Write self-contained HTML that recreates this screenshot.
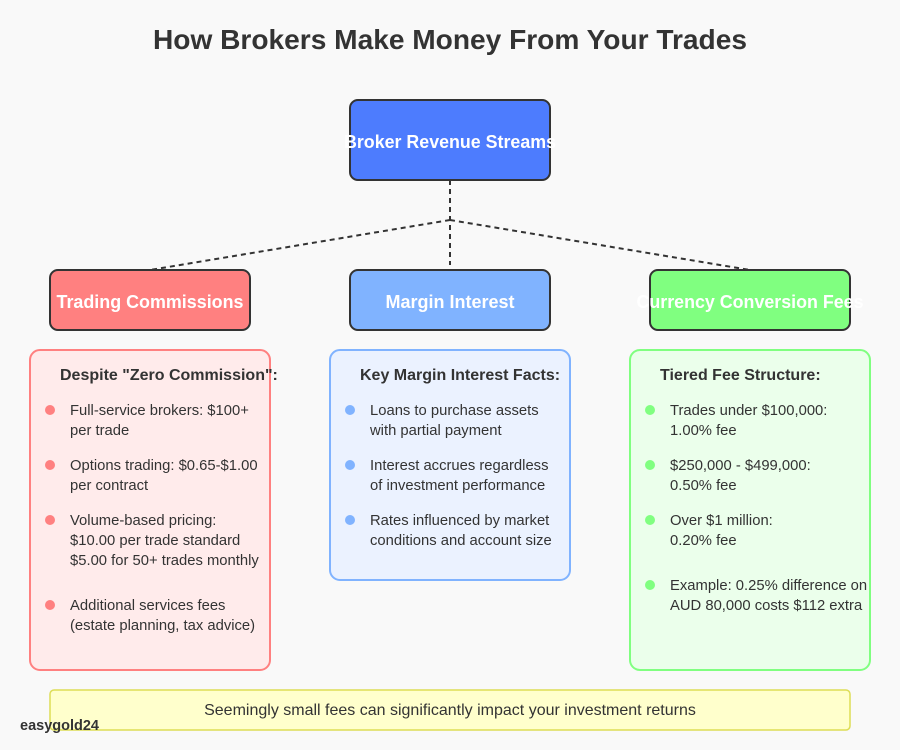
<!DOCTYPE html>
<html><head><meta charset="utf-8"><style>
html,body{margin:0;padding:0;background:#f9f9f9;}
svg{display:block;font-family:"Liberation Sans",Arial,sans-serif;}
</style></head><body>
<svg width="900" height="750" viewBox="0 0 900 750" xmlns="http://www.w3.org/2000/svg">
<rect width="900" height="750" fill="#f9f9f9"/>
<text x="450" y="49" text-anchor="middle" font-size="28" font-weight="bold" fill="#333" textLength="594" lengthAdjust="spacingAndGlyphs">How Brokers Make Money From Your Trades</text>

<rect x="350" y="100" width="200" height="80" rx="8" fill="#4d7cfe" stroke="#333" stroke-width="2"/>
<text x="450" y="148" text-anchor="middle" font-size="18" font-weight="bold" fill="#fff" textLength="212" lengthAdjust="spacingAndGlyphs">Broker Revenue Streams</text>

<g stroke="#333" stroke-width="2" stroke-dasharray="5,4" fill="none">
<line x1="450" y1="180" x2="450" y2="265"/>
<line x1="450" y1="220" x2="150" y2="270"/>
<line x1="450" y1="220" x2="750" y2="270"/>
</g>

<rect x="50" y="270" width="200" height="60" rx="8" fill="#ff8080" stroke="#333" stroke-width="2"/>
<text x="150" y="308" text-anchor="middle" font-size="18" font-weight="bold" fill="#fff" textLength="187" lengthAdjust="spacingAndGlyphs">Trading Commissions</text>
<rect x="350" y="270" width="200" height="60" rx="8" fill="#80b3ff" stroke="#333" stroke-width="2"/>
<text x="450" y="308" text-anchor="middle" font-size="18" font-weight="bold" fill="#fff" textLength="129" lengthAdjust="spacingAndGlyphs">Margin Interest</text>
<rect x="650" y="270" width="200" height="60" rx="8" fill="#80ff80" stroke="#333" stroke-width="2"/>
<text x="750" y="308" text-anchor="middle" font-size="18" font-weight="bold" fill="#fff" textLength="227" lengthAdjust="spacingAndGlyphs">Currency Conversion Fees</text>

<rect x="30" y="350" width="240" height="320" rx="10" fill="#ffebeb" stroke="#ff8080" stroke-width="2"/>
<rect x="330" y="350" width="240" height="230" rx="10" fill="#ebf2ff" stroke="#80b3ff" stroke-width="2"/>
<rect x="630" y="350" width="240" height="320" rx="10" fill="#ebffeb" stroke="#80ff80" stroke-width="2"/>

<g font-size="16" font-weight="bold" fill="#333">
<text x="60" y="380">Despite "Zero Commission":</text>
<text x="360" y="380">Key Margin Interest Facts:</text>
<text x="660" y="380">Tiered Fee Structure:</text>
</g>

<g fill="#ff8080"><circle cx="50" cy="410" r="5"/><circle cx="50" cy="465" r="5"/><circle cx="50" cy="520" r="5"/><circle cx="50" cy="605" r="5"/></g>
<g fill="#80b3ff"><circle cx="350" cy="410" r="5"/><circle cx="350" cy="465" r="5"/><circle cx="350" cy="520" r="5"/></g>
<g fill="#80ff80"><circle cx="650" cy="410" r="5"/><circle cx="650" cy="465" r="5"/><circle cx="650" cy="520" r="5"/><circle cx="650" cy="585" r="5"/></g>

<g font-size="14.8" fill="#333">
<text x="70" y="415">Full-service brokers: $100+</text>
<text x="70" y="435">per trade</text>
<text x="70" y="470">Options trading: $0.65-$1.00</text>
<text x="70" y="490">per contract</text>
<text x="70" y="525">Volume-based pricing:</text>
<text x="70" y="545">$10.00 per trade standard</text>
<text x="70" y="565">$5.00 for 50+ trades monthly</text>
<text x="70" y="610">Additional services fees</text>
<text x="70" y="630">(estate planning, tax advice)</text>

<text x="370" y="415">Loans to purchase assets</text>
<text x="370" y="435">with partial payment</text>
<text x="370" y="470">Interest accrues regardless</text>
<text x="370" y="490">of investment performance</text>
<text x="370" y="525">Rates influenced by market</text>
<text x="370" y="545">conditions and account size</text>

<text x="670" y="415">Trades under $100,000:</text>
<text x="670" y="435">1.00% fee</text>
<text x="670" y="470">$250,000 - $499,000:</text>
<text x="670" y="490">0.50% fee</text>
<text x="670" y="525">Over $1 million:</text>
<text x="670" y="545">0.20% fee</text>
<text x="670" y="590">Example: 0.25% difference on</text>
<text x="670" y="610">AUD 80,000 costs $112 extra</text>
</g>

<rect x="50" y="690" width="800" height="40" rx="4" fill="#ffffcc" stroke="#dddd55" stroke-width="1.5"/>
<text x="450" y="715" text-anchor="middle" font-size="16" fill="#333">Seemingly small fees can significantly impact your investment returns</text>
<text x="20" y="730" font-size="14.5" font-weight="bold" fill="#333">easygold24</text>
</svg>
</body></html>
